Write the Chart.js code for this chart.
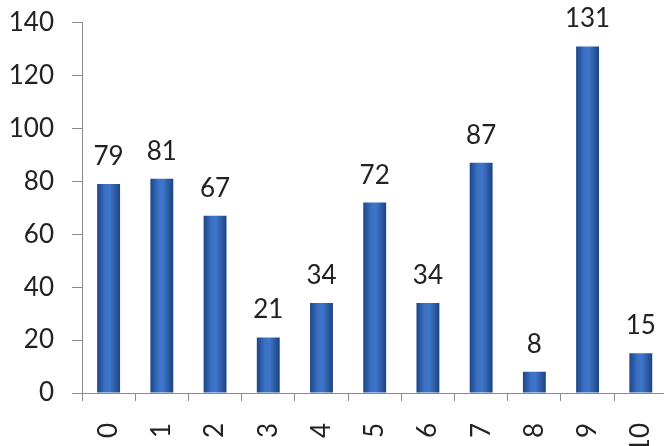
<!DOCTYPE html>
<html>
<head>
<meta charset="utf-8">
<script src="https://cdn.jsdelivr.net/npm/chart.js@4/dist/chart.umd.min.js"></script>
<style>
  html, body { margin: 0; padding: 0; background: #fff; overflow: hidden; }
  #wrap { width: 694px; height: 464px; margin-top: -11px; position: relative; }
</style>
</head>
<body>
<div id="wrap"><canvas id="chart"></canvas></div>
<script>
// Chart data
const categories = ["0", "1", "2", "3", "4", "5", "6", "7", "8", "9", "10"];
const values = [79, 81, 67, 21, 34, 72, 34, 87, 8, 131, 15];
const yTicks = [0, 20, 40, 60, 80, 100, 120, 140];

const BAR_PCT = 0.43;
const FONT = "Lato, 'Open Sans', sans-serif";

// horizontal cylinder-like gradient per bar
function barFill(ctx) {
  const chart = ctx.chart;
  const x = chart.scales.x;
  if (!x || ctx.dataIndex === undefined) return "#2f5fae";
  const cx = x.getPixelForValue(ctx.dataIndex);
  const w = (x.width / categories.length) * BAR_PCT;
  if (!isFinite(cx) || !isFinite(w) || w <= 0) return "#2f5fae";
  const g = chart.ctx.createLinearGradient(cx - w / 2, 0, cx + w / 2, 0);
  g.addColorStop(0, "#1d4688");
  g.addColorStop(0.35, "#3b71c4");
  g.addColorStop(0.55, "#3f76c9");
  g.addColorStop(1, "#1c4383");
  return g;
}

// value labels above bars
const valueLabels = {
  id: "valueLabels",
  afterDatasetsDraw(chart) {
    const ctx = chart.ctx;
    const meta = chart.getDatasetMeta(0);
    ctx.save();
    ctx.font = "26px " + FONT;
    ctx.fillStyle = "#222";
    ctx.textAlign = "center";
    ctx.textBaseline = "alphabetic";
    meta.data.forEach(function (bar, i) {
      ctx.fillText(String(values[i]), bar.x, bar.y - 19);
    });
    ctx.restore();
  },
};

new Chart(document.getElementById("chart"), {
  type: "bar",
  data: {
    labels: categories,
    datasets: [
      {
        data: values,
        backgroundColor: barFill,
        borderWidth: 0,
        barPercentage: BAR_PCT,
        categoryPercentage: 1,
      },
    ],
  },
  options: {
    responsive: true,
    maintainAspectRatio: false,
    animation: false,
    devicePixelRatio: 1,
    layout: {
      padding: { top: 0, left: 0, right: 0, bottom: 0 },
    },
    scales: {
      x: {
        afterFit(axis) {
          axis.height = 60;
        },
        grid: {
          display: true,
          drawOnChartArea: false,
          offset: true,
          color: "#8a8a8a",
          tickLength: 8,
        },
        border: { color: "#8a8a8a", width: 1 },
        ticks: {
          color: "#222",
          font: { family: FONT, size: 26 },
          minRotation: 90,
          maxRotation: 90,
          padding: 22,
        },
      },
      y: {
        min: 0,
        max: 140,
        afterBuildTicks(axis) {
          axis.ticks = yTicks.map(function (v) { return { value: v }; });
        },
        afterFit(axis) {
          axis.width = 82;
        },
        grid: {
          display: true,
          drawOnChartArea: false,
          color: "#8a8a8a",
          tickLength: 10,
        },
        border: { color: "#8a8a8a", width: 1 },
        ticks: {
          color: "#222",
          font: { family: FONT, size: 26 },
          padding: 18,
        },
      },
    },
    plugins: {
      legend: { display: false },
      tooltip: { enabled: false },
    },
  },
  plugins: [valueLabels],
});
</script>
</body>
</html>
